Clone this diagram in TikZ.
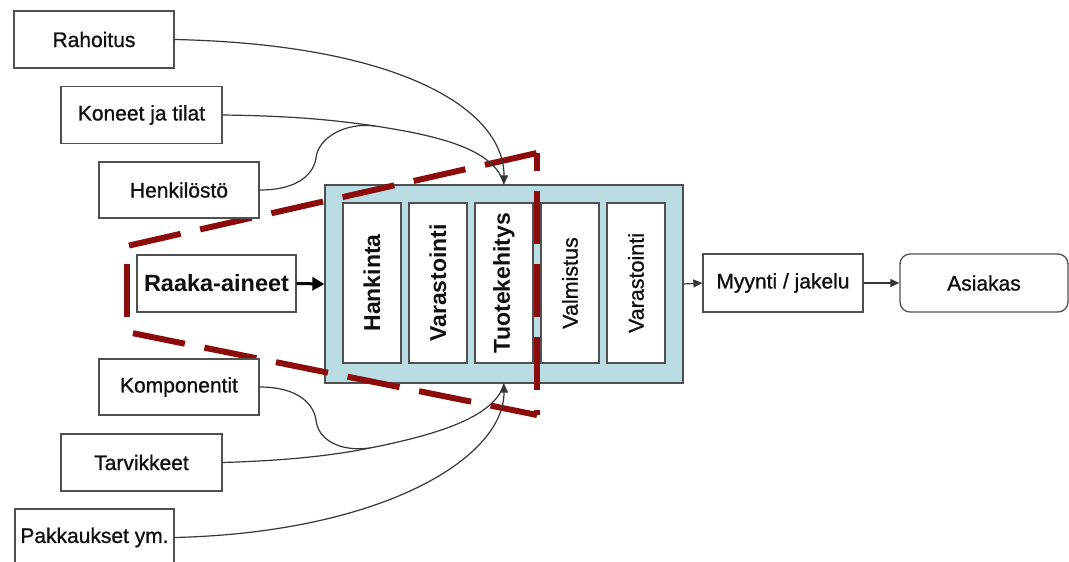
\documentclass[tikz,border=0pt]{standalone}
\usepackage{fontspec}
\setmainfont{Liberation Sans}
\newfontfamily\labelfont{Liberation Sans}[FakeBold=0.9]
\usetikzlibrary{arrows.meta}
\definecolor{panelblue}{RGB}{185,221,226}
\definecolor{framered}{RGB}{140,12,12}
\definecolor{edgegray}{RGB}{80,80,80}
\definecolor{linkgray}{RGB}{55,55,55}
\definecolor{inkblack}{RGB}{15,15,15}
\begin{document}
\begin{tikzpicture}[x=1pt, y=-1pt,
  box/.style={draw=edgegray, line width=1.3pt, fill=white, inner sep=0pt,
    minimum width=160pt, minimum height=57pt, text=inkblack,
    font=\labelfont\fontsize{21}{25}\selectfont},
  stage/.style={draw=edgegray, line width=1.2pt, fill=white, inner sep=0pt,
    rotate=90, minimum width=160pt, minimum height=58pt, text=inkblack},
  boldstage/.style={stage, font=\fontsize{23}{27}\selectfont\bfseries},
  plainstage/.style={stage, font=\labelfont\fontsize{21.5}{25}\selectfont},
  link/.style={draw=linkgray, line width=1.2pt},
  tip/.style={-{Triangle[length=9pt,width=8pt]}},
  zone/.style={draw=framered, line width=6pt, line cap=butt,
    dash pattern=on 53pt off 20pt}]

\path[use as bounding box, clip] (0,0) rectangle (1069,562);
\fill[white] (0,0) rectangle (1069,562);

% company block with its internal functions
\node[draw=edgegray, line width=1.3pt, fill=panelblue, minimum width=358pt,
  minimum height=198pt, inner sep=0pt] (blue) at (504,284) {};
\node[boldstage]  (hank) at (372,283) {Hankinta};
\node[boldstage]  (var1) at (438,283) {Varastointi};
\node[boldstage]  (tuot) at (504,283) {Tuotekehitys};
\node[plainstage] (valm) at (570,283) {Valmistus};
\node[plainstage] (var2) at (636,283) {Varastointi};

% dashed red frame, one side at a time
\coordinate (zA) at (127,246);
\coordinate (zB) at (537,153);
\coordinate (zC) at (537,415);
\coordinate (zD) at (127,332);
\draw[zone, dash phase=71pt] (zA) -- (zB);
\draw[zone, dash phase=35pt] (zB) -- (zC);
\draw[zone, dash phase=67pt] (zD) -- (zC);
\draw[zone, dash phase=58pt] (zD) -- (zA);

% resource boxes
\node[box] (rah) at (94,39.5)    {Rahoitus};
\node[box, minimum width=161pt] (kon) at (141.5,115) {Koneet ja tilat};
\node[box, minimum width=160pt, minimum height=56pt] (hen) at (179,190) {Henkilöstö};
\node[box, minimum width=159pt, font=\fontsize{23.5}{27}\selectfont\bfseries] (raa) at (216.5,283.5) {Raaka-aineet};
\node[box, minimum height=56pt] (kom) at (179,387) {Komponentit};
\node[box, minimum width=161pt] (tar) at (141.5,462.5) {Tarvikkeet};
\node[box, minimum width=159pt] (pak) at (94.5,537.5) {Pakkaukset ym.};

% sales chain
\node[box, minimum height=58pt] (myy) at (783,283) {Myynti / jakelu};
\node[box, minimum width=168pt, minimum height=58pt, rounded corners=10pt] (asi) at (984,283) {Asiakas};

% merge points of the curved links
\coordinate (km) at (375,126);
\coordinate (hb) at (316,158);
\coordinate (tm) at (370,448);
\coordinate (kb) at (316,420);

% links into the top of the block
\draw[link, tip] (rah.east) .. controls +(226,5) and +(0,-75) .. (blue.north);
\draw[link] (kon.east) .. controls +(78,1) and +(-35,-5) .. (km)
  .. controls +(65,10) and +(-9,-35) .. (blue.north);
\draw[link] (hen.east) .. controls +(41,0) and +(-2,14) .. (hb)
  .. controls +(2,-20) and +(-30,-4) .. (km);

% links into the bottom of the block
\draw[link, tip] (pak.east) .. controls +(206,-5) and +(0,75) .. (blue.south);
\draw[link] (tar.east) .. controls +(68,-2) and +(-35,7) .. (tm)
  .. controls +(60,-12) and +(-9,35) .. (blue.south);
\draw[link] (kom.east) .. controls +(41,0) and +(-2,-14) .. (kb)
  .. controls +(2,20) and +(-30,4) .. (tm);

% main flow
\draw[draw=black, line width=3pt, -{Triangle[length=12pt,width=13pt]}] (raa.east) -- (blue.west);
\draw[link, tip] (blue.east) -- (myy.west);
\draw[link, tip] (myy.east) -- (asi.west);
\end{tikzpicture}
\end{document}
